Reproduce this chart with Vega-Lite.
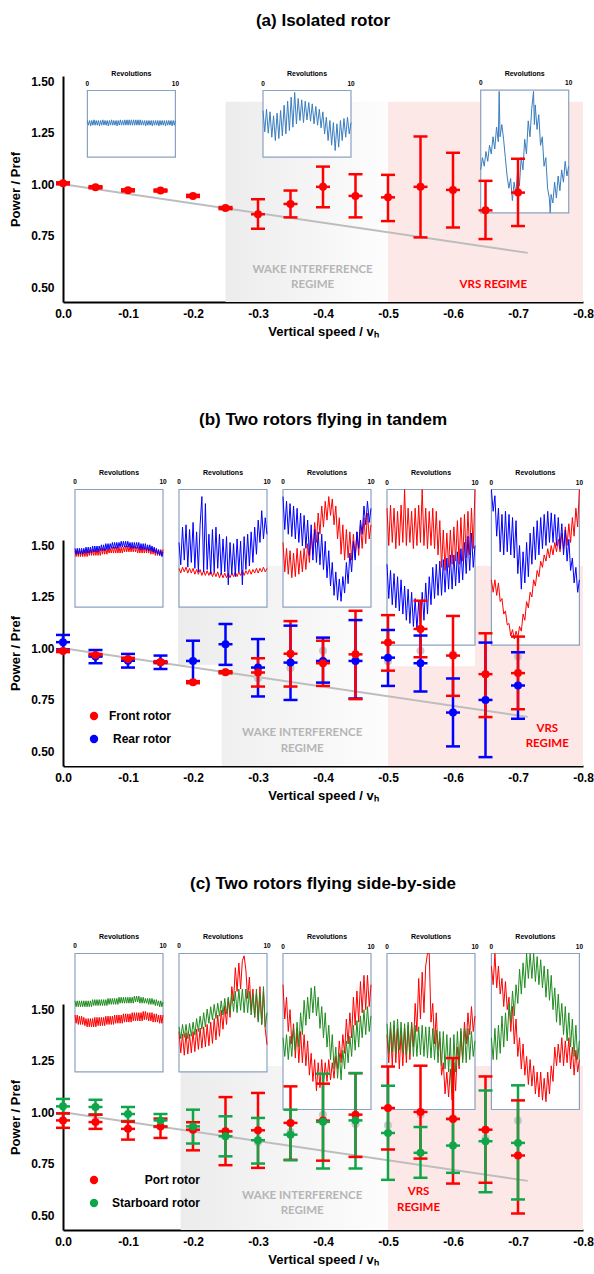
{
"$schema":"https://vega.github.io/schema/vega-lite/v6.json",
"background":"white",
"padding":{"left":9,"top":11,"right":0,"bottom":0},
"bounds":"flush",
"spacing":238,
"resolve":{"scale":{"x":"independent","y":"independent","color":"independent"},"legend":{"color":"independent"}},
"config":{
 "font":"Liberation Sans",
 "view":{"stroke":null},
 "axis":{"domainColor":"#000","domainWidth":2,"ticks":false,"grid":false,"labelFont":"Liberation Sans","labelFontSize":12,"labelFontWeight":"bold","labelColor":"#000","labelFlush":false,"titleFont":"Liberation Sans","titleFontSize":13,"titleFontWeight":"bold","titleColor":"#000"},
 "title":{"font":"Liberation Sans","fontSize":17,"fontWeight":"bold","color":"#000","anchor":"middle","offset":40}
},
"datasets":{
"trend":[{"v":0,"p":1.0},{"v":-0.715,"p":0.668}],
"iso":[
{"v":0,"p":1.005,"lo":1.0,"hi":1.01},{"v":-0.05,"p":0.986,"lo":0.981,"hi":0.991},{"v":-0.1,"p":0.971,"lo":0.966,"hi":0.976},{"v":-0.15,"p":0.97,"lo":0.965,"hi":0.975},{"v":-0.2,"p":0.944,"lo":0.939,"hi":0.949},{"v":-0.25,"p":0.885,"lo":0.88,"hi":0.89},{"v":-0.3,"p":0.855,"lo":0.785,"hi":0.928},{"v":-0.35,"p":0.905,"lo":0.84,"hi":0.97},{"v":-0.4,"p":0.988,"lo":0.889,"hi":1.086},{"v":-0.45,"p":0.944,"lo":0.84,"hi":1.049},{"v":-0.5,"p":0.937,"lo":0.822,"hi":1.046},{"v":-0.55,"p":0.988,"lo":0.743,"hi":1.232},{"v":-0.6,"p":0.973,"lo":0.791,"hi":1.153},{"v":-0.65,"p":0.874,"lo":0.735,"hi":1.017},{"v":-0.7,"p":0.96,"lo":0.798,"hi":1.124}],
"tandem":[
{"v":0,"rotor":"Rear rotor","p":1.03,"lo":0.995,"hi":1.065},{"v":-0.05,"rotor":"Rear rotor","p":0.96,"lo":0.928,"hi":0.992},{"v":-0.1,"rotor":"Rear rotor","p":0.94,"lo":0.907,"hi":0.973},{"v":-0.15,"rotor":"Rear rotor","p":0.933,"lo":0.9,"hi":0.965},{"v":-0.2,"rotor":"Rear rotor","p":0.939,"lo":0.839,"hi":1.037},{"v":-0.25,"rotor":"Rear rotor","p":1.02,"lo":0.92,"hi":1.118},{"v":-0.3,"rotor":"Rear rotor","p":0.907,"lo":0.767,"hi":1.045},{"v":-0.35,"rotor":"Rear rotor","p":0.931,"lo":0.75,"hi":1.11},{"v":-0.4,"rotor":"Rear rotor","p":0.939,"lo":0.834,"hi":1.052},{"v":-0.45,"rotor":"Rear rotor","p":0.939,"lo":0.757,"hi":1.137},{"v":-0.5,"rotor":"Rear rotor","p":0.955,"lo":0.818,"hi":1.089},{"v":-0.55,"rotor":"Rear rotor","p":0.928,"lo":0.791,"hi":1.062},{"v":-0.6,"rotor":"Rear rotor","p":0.689,"lo":0.525,"hi":0.854},{"v":-0.65,"rotor":"Rear rotor","p":0.75,"lo":0.473,"hi":1.028},{"v":-0.7,"rotor":"Rear rotor","p":0.82,"lo":0.659,"hi":0.981},
{"v":0,"rotor":"Front rotor","p":0.987,"lo":0.982,"hi":0.992},{"v":-0.05,"rotor":"Front rotor","p":0.968,"lo":0.963,"hi":0.973},{"v":-0.1,"rotor":"Front rotor","p":0.949,"lo":0.944,"hi":0.954},{"v":-0.15,"rotor":"Front rotor","p":0.933,"lo":0.928,"hi":0.938},{"v":-0.2,"rotor":"Front rotor","p":0.836,"lo":0.831,"hi":0.841},{"v":-0.25,"rotor":"Front rotor","p":0.884,"lo":0.879,"hi":0.889},{"v":-0.3,"rotor":"Front rotor","p":0.883,"lo":0.815,"hi":0.952},{"v":-0.35,"rotor":"Front rotor","p":0.974,"lo":0.815,"hi":1.132},{"v":-0.4,"rotor":"Front rotor","p":0.928,"lo":0.818,"hi":1.037},{"v":-0.45,"rotor":"Front rotor","p":0.971,"lo":0.754,"hi":1.182},{"v":-0.5,"rotor":"Front rotor","p":1.028,"lo":0.892,"hi":1.161},{"v":-0.55,"rotor":"Front rotor","p":1.094,"lo":0.957,"hi":1.231},{"v":-0.6,"rotor":"Front rotor","p":0.965,"lo":0.77,"hi":1.157},{"v":-0.65,"rotor":"Front rotor","p":0.875,"lo":0.667,"hi":1.073},{"v":-0.7,"rotor":"Front rotor","p":0.88,"lo":0.705,"hi":1.057}],
"side":[
{"v":0,"rotor":"Port rotor","p":0.961,"lo":0.925,"hi":0.995},{"v":-0.05,"rotor":"Port rotor","p":0.953,"lo":0.92,"hi":0.989},{"v":-0.1,"rotor":"Port rotor","p":0.92,"lo":0.868,"hi":0.955},{"v":-0.15,"rotor":"Port rotor","p":0.932,"lo":0.876,"hi":0.97},{"v":-0.2,"rotor":"Port rotor","p":0.916,"lo":0.816,"hi":0.952},{"v":-0.25,"rotor":"Port rotor","p":0.908,"lo":0.744,"hi":1.074},{"v":-0.3,"rotor":"Port rotor","p":0.913,"lo":0.731,"hi":1.094},{"v":-0.35,"rotor":"Port rotor","p":0.949,"lo":0.77,"hi":1.126},{"v":-0.4,"rotor":"Port rotor","p":0.96,"lo":0.766,"hi":1.139},{"v":-0.45,"rotor":"Port rotor","p":0.989,"lo":0.784,"hi":1.19},{"v":-0.5,"rotor":"Port rotor","p":1.021,"lo":0.82,"hi":1.222},{"v":-0.55,"rotor":"Port rotor","p":1.002,"lo":0.776,"hi":1.226},{"v":-0.6,"rotor":"Port rotor","p":0.968,"lo":0.655,"hi":1.263},{"v":-0.65,"rotor":"Port rotor","p":0.916,"lo":0.659,"hi":1.174},{"v":-0.7,"rotor":"Port rotor","p":0.791,"lo":0.51,"hi":1.058},
{"v":0,"rotor":"Starboard rotor","p":1.029,"lo":0.995,"hi":1.065},{"v":-0.05,"rotor":"Starboard rotor","p":1.026,"lo":0.989,"hi":1.061},{"v":-0.1,"rotor":"Starboard rotor","p":0.992,"lo":0.958,"hi":1.026},{"v":-0.15,"rotor":"Starboard rotor","p":0.961,"lo":0.929,"hi":0.992},{"v":-0.2,"rotor":"Starboard rotor","p":0.932,"lo":0.849,"hi":1.013},{"v":-0.25,"rotor":"Starboard rotor","p":0.884,"lo":0.787,"hi":0.981},{"v":-0.3,"rotor":"Starboard rotor","p":0.865,"lo":0.752,"hi":0.973},{"v":-0.35,"rotor":"Starboard rotor","p":0.892,"lo":0.768,"hi":1.013},{"v":-0.4,"rotor":"Starboard rotor","p":0.954,"lo":0.728,"hi":1.187},{"v":-0.45,"rotor":"Starboard rotor","p":0.961,"lo":0.728,"hi":1.19},{"v":-0.5,"rotor":"Starboard rotor","p":0.9,"lo":0.673,"hi":1.129},{"v":-0.55,"rotor":"Starboard rotor","p":0.804,"lo":0.683,"hi":0.929},{"v":-0.6,"rotor":"Starboard rotor","p":0.839,"lo":0.707,"hi":0.968},{"v":-0.65,"rotor":"Starboard rotor","p":0.86,"lo":0.613,"hi":1.106},{"v":-0.7,"rotor":"Starboard rotor","p":0.852,"lo":0.578,"hi":1.131}],
"a1":[{"r":0,"a":55},{"r":0.125,"a":48},{"r":0.25,"a":55},{"r":0.375,"a":47},{"r":0.5,"a":55},{"r":0.625,"a":48},{"r":0.75,"a":56},{"r":0.875,"a":48},{"r":1,"a":55},{"r":1.125,"a":48},{"r":1.25,"a":55},{"r":1.375,"a":47},{"r":1.5,"a":55},{"r":1.625,"a":48},{"r":1.75,"a":56},{"r":1.875,"a":48},{"r":2,"a":55},{"r":2.125,"a":48},{"r":2.25,"a":55},{"r":2.375,"a":47},{"r":2.5,"a":55},{"r":2.625,"a":48},{"r":2.75,"a":56},{"r":2.875,"a":48},{"r":3,"a":55},{"r":3.125,"a":48},{"r":3.25,"a":55},{"r":3.375,"a":47},{"r":3.5,"a":55},{"r":3.625,"a":48},{"r":3.75,"a":56},{"r":3.875,"a":48},{"r":4,"a":55},{"r":4.125,"a":48},{"r":4.25,"a":56},{"r":4.375,"a":48},{"r":4.5,"a":56},{"r":4.625,"a":48},{"r":4.75,"a":56},{"r":4.875,"a":48},{"r":5,"a":56},{"r":5.125,"a":48},{"r":5.25,"a":56},{"r":5.375,"a":48},{"r":5.5,"a":56},{"r":5.625,"a":48},{"r":5.75,"a":56},{"r":5.875,"a":48},{"r":6,"a":56},{"r":6.125,"a":48},{"r":6.25,"a":55},{"r":6.375,"a":48},{"r":6.5,"a":55},{"r":6.625,"a":47},{"r":6.75,"a":55},{"r":6.875,"a":48},{"r":7,"a":55},{"r":7.125,"a":48},{"r":7.25,"a":55},{"r":7.375,"a":47},{"r":7.5,"a":55},{"r":7.625,"a":48},{"r":7.75,"a":55},{"r":7.875,"a":48},{"r":8,"a":55},{"r":8.125,"a":47},{"r":8.25,"a":55},{"r":8.375,"a":48},{"r":8.5,"a":55},{"r":8.625,"a":48},{"r":8.75,"a":55},{"r":8.875,"a":47},{"r":9,"a":55},{"r":9.125,"a":48},{"r":9.25,"a":55},{"r":9.375,"a":48},{"r":9.5,"a":55},{"r":9.625,"a":47},{"r":9.75,"a":55},{"r":9.875,"a":48},{"r":10,"a":55}],
"a2":[{"r":0,"a":70},{"r":0.2,"a":38},{"r":0.4,"a":72},{"r":0.6,"a":36},{"r":0.8,"a":68},{"r":1,"a":30},{"r":1.2,"a":62},{"r":1.4,"a":25},{"r":1.6,"a":66},{"r":1.8,"a":28},{"r":2,"a":70},{"r":2.2,"a":32},{"r":2.4,"a":78},{"r":2.6,"a":35},{"r":2.8,"a":84},{"r":3,"a":40},{"r":3.2,"a":90},{"r":3.4,"a":45},{"r":3.6,"a":97},{"r":3.8,"a":50},{"r":4,"a":88},{"r":4.2,"a":55},{"r":4.4,"a":86},{"r":4.6,"a":52},{"r":4.8,"a":84},{"r":5,"a":56},{"r":5.2,"a":82},{"r":5.4,"a":54},{"r":5.6,"a":80},{"r":5.8,"a":50},{"r":6,"a":76},{"r":6.2,"a":48},{"r":6.4,"a":72},{"r":6.6,"a":44},{"r":6.8,"a":68},{"r":7,"a":35},{"r":7.2,"a":60},{"r":7.4,"a":25},{"r":7.6,"a":55},{"r":7.8,"a":18},{"r":8,"a":52},{"r":8.2,"a":10},{"r":8.4,"a":50},{"r":8.6,"a":15},{"r":8.8,"a":55},{"r":9,"a":25},{"r":9.2,"a":58},{"r":9.4,"a":30},{"r":9.6,"a":60},{"r":9.8,"a":35},{"r":10,"a":52}],
"a3":[{"r":0,"a":35},{"r":0.2,"a":45},{"r":0.4,"a":38},{"r":0.6,"a":50},{"r":0.8,"a":42},{"r":1,"a":55},{"r":1.2,"a":48},{"r":1.4,"a":62},{"r":1.6,"a":52},{"r":1.8,"a":70},{"r":2,"a":58},{"r":2.1,"a":99},{"r":2.2,"a":62},{"r":2.4,"a":72},{"r":2.6,"a":60},{"r":2.8,"a":45},{"r":3,"a":30},{"r":3.2,"a":20},{"r":3.4,"a":28},{"r":3.6,"a":10},{"r":3.8,"a":25},{"r":4,"a":15},{"r":4.2,"a":35},{"r":4.4,"a":22},{"r":4.6,"a":45},{"r":4.8,"a":35},{"r":5,"a":60},{"r":5.2,"a":48},{"r":5.4,"a":75},{"r":5.6,"a":62},{"r":5.8,"a":85},{"r":6,"a":99},{"r":6.1,"a":72},{"r":6.2,"a":88},{"r":6.4,"a":68},{"r":6.6,"a":80},{"r":6.8,"a":55},{"r":7,"a":62},{"r":7.2,"a":38},{"r":7.4,"a":45},{"r":7.6,"a":20},{"r":7.8,"a":12},{"r":7.9,"a":0},{"r":8,"a":15},{"r":8.2,"a":8},{"r":8.4,"a":25},{"r":8.6,"a":12},{"r":8.8,"a":30},{"r":9,"a":18},{"r":9.2,"a":35},{"r":9.4,"a":25},{"r":9.6,"a":42},{"r":9.8,"a":30},{"r":10,"a":38}],
"b1":[{"r":0,"a":48,"b":50},{"r":0.125,"a":43,"b":45},{"r":0.25,"a":48,"b":50},{"r":0.375,"a":43,"b":45},{"r":0.5,"a":48,"b":50},{"r":0.625,"a":43,"b":45},{"r":0.75,"a":48,"b":50},{"r":0.875,"a":43,"b":45},{"r":1,"a":48,"b":50},{"r":1.125,"a":43,"b":46},{"r":1.25,"a":48,"b":51},{"r":1.375,"a":43,"b":46},{"r":1.5,"a":48,"b":51},{"r":1.625,"a":44,"b":46},{"r":1.75,"a":49,"b":51},{"r":1.875,"a":44,"b":46},{"r":2,"a":49,"b":52},{"r":2.125,"a":44,"b":47},{"r":2.25,"a":49,"b":52},{"r":2.375,"a":44,"b":47},{"r":2.5,"a":49,"b":52},{"r":2.625,"a":44,"b":47},{"r":2.75,"a":49,"b":52},{"r":2.875,"a":44,"b":48},{"r":3,"a":50,"b":53},{"r":3.125,"a":45,"b":48},{"r":3.25,"a":50,"b":53},{"r":3.375,"a":45,"b":48},{"r":3.5,"a":50,"b":54},{"r":3.625,"a":45,"b":49},{"r":3.75,"a":50,"b":54},{"r":3.875,"a":46,"b":49},{"r":4,"a":50,"b":54},{"r":4.125,"a":46,"b":50},{"r":4.25,"a":51,"b":55},{"r":4.375,"a":46,"b":50},{"r":4.5,"a":51,"b":55},{"r":4.625,"a":46,"b":50},{"r":4.75,"a":51,"b":55},{"r":4.875,"a":46,"b":50},{"r":5,"a":51,"b":55},{"r":5.125,"a":46,"b":51},{"r":5.25,"a":51,"b":56},{"r":5.375,"a":46,"b":51},{"r":5.5,"a":51,"b":56},{"r":5.625,"a":47,"b":51},{"r":5.75,"a":52,"b":56},{"r":5.875,"a":47,"b":51},{"r":6,"a":52,"b":56},{"r":6.125,"a":47,"b":51},{"r":6.25,"a":52,"b":55},{"r":6.375,"a":47,"b":50},{"r":6.5,"a":52,"b":55},{"r":6.625,"a":47,"b":50},{"r":6.75,"a":52,"b":55},{"r":6.875,"a":47,"b":50},{"r":7,"a":51,"b":55},{"r":7.125,"a":46,"b":50},{"r":7.25,"a":51,"b":55},{"r":7.375,"a":46,"b":49},{"r":7.5,"a":51,"b":54},{"r":7.625,"a":46,"b":49},{"r":7.75,"a":51,"b":54},{"r":7.875,"a":46,"b":49},{"r":8,"a":51,"b":54},{"r":8.125,"a":46,"b":48},{"r":8.25,"a":51,"b":53},{"r":8.375,"a":46,"b":48},{"r":8.5,"a":50,"b":53},{"r":8.625,"a":45,"b":48},{"r":8.75,"a":50,"b":52},{"r":8.875,"a":45,"b":47},{"r":9,"a":50,"b":51},{"r":9.125,"a":44,"b":46},{"r":9.25,"a":49,"b":50},{"r":9.375,"a":44,"b":45},{"r":9.5,"a":48,"b":49},{"r":9.625,"a":44,"b":44},{"r":9.75,"a":49,"b":48},{"r":9.875,"a":44,"b":43},{"r":10,"a":49,"b":47}],
"b2":[{"r":0,"a":33,"b":55},{"r":0.2,"a":29,"b":36},{"r":0.4,"a":34,"b":68},{"r":0.6,"a":30,"b":40},{"r":0.8,"a":34,"b":70},{"r":1,"a":29,"b":34},{"r":1.2,"a":33,"b":66},{"r":1.4,"a":29,"b":38},{"r":1.6,"a":33,"b":72},{"r":1.8,"a":28,"b":33},{"r":2,"a":32,"b":64},{"r":2.2,"a":28,"b":30},{"r":2.4,"a":32,"b":70},{"r":2.6,"a":27,"b":94},{"r":2.8,"a":31,"b":30},{"r":3,"a":27,"b":88},{"r":3.2,"a":31,"b":32},{"r":3.4,"a":27,"b":62},{"r":3.6,"a":31,"b":28},{"r":3.8,"a":26,"b":66},{"r":4,"a":30,"b":30},{"r":4.2,"a":26,"b":68},{"r":4.4,"a":30,"b":33},{"r":4.6,"a":25,"b":62},{"r":4.8,"a":29,"b":28},{"r":5,"a":25,"b":58},{"r":5.2,"a":29,"b":30},{"r":5.4,"a":25,"b":60},{"r":5.6,"a":29,"b":19},{"r":5.8,"a":25,"b":55},{"r":6,"a":29,"b":28},{"r":6.2,"a":26,"b":54},{"r":6.4,"a":30,"b":26},{"r":6.6,"a":26,"b":58},{"r":6.8,"a":30,"b":30},{"r":7,"a":27,"b":56},{"r":7.2,"a":31,"b":19},{"r":7.4,"a":27,"b":60},{"r":7.6,"a":31,"b":32},{"r":7.8,"a":28,"b":62},{"r":8,"a":32,"b":35},{"r":8.2,"a":28,"b":64},{"r":8.4,"a":32,"b":38},{"r":8.6,"a":29,"b":68},{"r":8.8,"a":33,"b":45},{"r":9,"a":29,"b":74},{"r":9.2,"a":33,"b":55},{"r":9.4,"a":30,"b":82},{"r":9.6,"a":34,"b":58},{"r":9.8,"a":30,"b":76},{"r":10,"a":33,"b":62}],
"b3":[{"r":0,"a":55,"b":94},{"r":0.2,"a":30,"b":66},{"r":0.4,"a":50,"b":90},{"r":0.6,"a":28,"b":62},{"r":0.8,"a":48,"b":88},{"r":1,"a":25,"b":60},{"r":1.2,"a":46,"b":86},{"r":1.4,"a":26,"b":58},{"r":1.6,"a":50,"b":84},{"r":1.8,"a":28,"b":55},{"r":2,"a":48,"b":80},{"r":2.2,"a":30,"b":52},{"r":2.4,"a":50,"b":78},{"r":2.6,"a":32,"b":50},{"r":2.8,"a":54,"b":74},{"r":3,"a":38,"b":44},{"r":3.2,"a":62,"b":70},{"r":3.4,"a":45,"b":40},{"r":3.6,"a":72,"b":66},{"r":3.8,"a":55,"b":38},{"r":4,"a":80,"b":64},{"r":4.2,"a":62,"b":36},{"r":4.4,"a":86,"b":62},{"r":4.6,"a":68,"b":32},{"r":4.8,"a":90,"b":56},{"r":5,"a":74,"b":25},{"r":5.2,"a":94,"b":48},{"r":5.4,"a":78,"b":18},{"r":5.6,"a":92,"b":38},{"r":5.8,"a":70,"b":10},{"r":6,"a":86,"b":30},{"r":6.2,"a":58,"b":6},{"r":6.4,"a":76,"b":24},{"r":6.6,"a":45,"b":5},{"r":6.8,"a":70,"b":26},{"r":7,"a":40,"b":12},{"r":7.2,"a":66,"b":38},{"r":7.4,"a":42,"b":20},{"r":7.6,"a":64,"b":46},{"r":7.8,"a":40,"b":30},{"r":8,"a":62,"b":56},{"r":8.2,"a":42,"b":40},{"r":8.4,"a":64,"b":64},{"r":8.6,"a":44,"b":50},{"r":8.8,"a":70,"b":74},{"r":9,"a":50,"b":62},{"r":9.2,"a":76,"b":86},{"r":9.4,"a":54,"b":70},{"r":9.6,"a":80,"b":90},{"r":9.8,"a":58,"b":72},{"r":10,"a":70,"b":84}],
"b4":[{"r":0,"a":88,"b":52},{"r":0.2,"a":64,"b":30},{"r":0.4,"a":90,"b":48},{"r":0.6,"a":66,"b":26},{"r":0.8,"a":88,"b":46},{"r":1,"a":62,"b":24},{"r":1.2,"a":86,"b":44},{"r":1.4,"a":64,"b":22},{"r":1.6,"a":90,"b":42},{"r":1.8,"a":66,"b":20},{"r":2,"a":100,"b":38},{"r":2.2,"a":64,"b":16},{"r":2.4,"a":88,"b":36},{"r":2.6,"a":66,"b":14},{"r":2.8,"a":86,"b":34},{"r":3,"a":62,"b":12},{"r":3.2,"a":88,"b":30},{"r":3.4,"a":64,"b":10},{"r":3.6,"a":90,"b":28},{"r":3.8,"a":66,"b":12},{"r":4,"a":100,"b":34},{"r":4.2,"a":64,"b":16},{"r":4.4,"a":88,"b":40},{"r":4.6,"a":62,"b":20},{"r":4.8,"a":86,"b":44},{"r":5,"a":64,"b":26},{"r":5.2,"a":88,"b":50},{"r":5.4,"a":62,"b":30},{"r":5.6,"a":86,"b":52},{"r":5.8,"a":58,"b":32},{"r":6,"a":80,"b":54},{"r":6.2,"a":50,"b":32},{"r":6.4,"a":74,"b":55},{"r":6.6,"a":48,"b":34},{"r":6.8,"a":72,"b":56},{"r":7,"a":50,"b":36},{"r":7.2,"a":74,"b":58},{"r":7.4,"a":52,"b":36},{"r":7.6,"a":76,"b":58},{"r":7.8,"a":54,"b":38},{"r":8,"a":80,"b":60},{"r":8.2,"a":52,"b":40},{"r":8.4,"a":82,"b":62},{"r":8.6,"a":54,"b":42},{"r":8.8,"a":84,"b":66},{"r":9,"a":56,"b":46},{"r":9.2,"a":86,"b":70},{"r":9.4,"a":58,"b":48},{"r":9.6,"a":88,"b":72},{"r":9.8,"a":62,"b":50},{"r":10,"a":100,"b":64}],
"b5":[{"r":0,"a":42,"b":100},{"r":0.2,"a":34,"b":86},{"r":0.4,"a":42,"b":96},{"r":0.6,"a":32,"b":70},{"r":0.8,"a":40,"b":88},{"r":1,"a":28,"b":60},{"r":1.2,"a":30,"b":84},{"r":1.4,"a":20,"b":58},{"r":1.6,"a":22,"b":86},{"r":1.8,"a":13,"b":60},{"r":2,"a":14,"b":84},{"r":2.2,"a":6,"b":58},{"r":2.4,"a":10,"b":82},{"r":2.6,"a":4,"b":56},{"r":2.8,"a":9,"b":80},{"r":3,"a":5,"b":46},{"r":3.2,"a":12,"b":64},{"r":3.4,"a":9,"b":36},{"r":3.6,"a":20,"b":60},{"r":3.8,"a":16,"b":40},{"r":4,"a":28,"b":66},{"r":4.2,"a":24,"b":44},{"r":4.4,"a":34,"b":72},{"r":4.6,"a":31,"b":52},{"r":4.8,"a":42,"b":76},{"r":5,"a":38,"b":55},{"r":5.2,"a":48,"b":80},{"r":5.4,"a":44,"b":58},{"r":5.6,"a":54,"b":82},{"r":5.8,"a":50,"b":62},{"r":6,"a":58,"b":84},{"r":6.2,"a":54,"b":64},{"r":6.4,"a":62,"b":86},{"r":6.6,"a":56,"b":66},{"r":6.8,"a":64,"b":85},{"r":7,"a":58,"b":66},{"r":7.2,"a":66,"b":84},{"r":7.4,"a":60,"b":64},{"r":7.6,"a":68,"b":82},{"r":7.8,"a":60,"b":62},{"r":8,"a":72,"b":78},{"r":8.2,"a":62,"b":58},{"r":8.4,"a":76,"b":74},{"r":8.6,"a":64,"b":54},{"r":8.8,"a":78,"b":68},{"r":9,"a":66,"b":48},{"r":9.2,"a":82,"b":56},{"r":9.4,"a":70,"b":40},{"r":9.6,"a":88,"b":50},{"r":9.8,"a":76,"b":34},{"r":10,"a":100,"b":42}],
"c1":[{"r":0,"a":48,"b":60},{"r":0.125,"a":41,"b":55},{"r":0.25,"a":48,"b":60},{"r":0.375,"a":40,"b":55},{"r":0.5,"a":47,"b":60},{"r":0.625,"a":40,"b":55},{"r":0.75,"a":47,"b":60},{"r":0.875,"a":40,"b":55},{"r":1,"a":46,"b":60},{"r":1.125,"a":39,"b":55},{"r":1.25,"a":45,"b":60},{"r":1.375,"a":38,"b":55},{"r":1.5,"a":45,"b":60},{"r":1.625,"a":38,"b":55},{"r":1.75,"a":45,"b":60},{"r":1.875,"a":38,"b":55},{"r":2,"a":45,"b":61},{"r":2.125,"a":38,"b":56},{"r":2.25,"a":46,"b":61},{"r":2.375,"a":38,"b":56},{"r":2.5,"a":46,"b":61},{"r":2.625,"a":39,"b":56},{"r":2.75,"a":46,"b":61},{"r":2.875,"a":39,"b":56},{"r":3,"a":46,"b":61},{"r":3.125,"a":39,"b":56},{"r":3.25,"a":46,"b":61},{"r":3.375,"a":39,"b":56},{"r":3.5,"a":47,"b":61},{"r":3.625,"a":40,"b":56},{"r":3.75,"a":47,"b":62},{"r":3.875,"a":40,"b":57},{"r":4,"a":47,"b":62},{"r":4.125,"a":40,"b":57},{"r":4.25,"a":47,"b":62},{"r":4.375,"a":40,"b":57},{"r":4.5,"a":48,"b":62},{"r":4.625,"a":41,"b":57},{"r":4.75,"a":48,"b":62},{"r":4.875,"a":41,"b":57},{"r":5,"a":48,"b":63},{"r":5.125,"a":41,"b":58},{"r":5.25,"a":48,"b":63},{"r":5.375,"a":41,"b":58},{"r":5.5,"a":49,"b":63},{"r":5.625,"a":42,"b":58},{"r":5.75,"a":49,"b":63},{"r":5.875,"a":42,"b":58},{"r":6,"a":49,"b":63},{"r":6.125,"a":42,"b":58},{"r":6.25,"a":49,"b":63},{"r":6.375,"a":42,"b":58},{"r":6.5,"a":50,"b":63},{"r":6.625,"a":43,"b":58},{"r":6.75,"a":50,"b":64},{"r":6.875,"a":43,"b":59},{"r":7,"a":50,"b":64},{"r":7.125,"a":43,"b":59},{"r":7.25,"a":50,"b":64},{"r":7.375,"a":43,"b":58},{"r":7.5,"a":50,"b":63},{"r":7.625,"a":43,"b":58},{"r":7.75,"a":51,"b":63},{"r":7.875,"a":44,"b":58},{"r":8,"a":51,"b":62},{"r":8.125,"a":44,"b":58},{"r":8.25,"a":50,"b":62},{"r":8.375,"a":43,"b":57},{"r":8.5,"a":50,"b":62},{"r":8.625,"a":43,"b":57},{"r":8.75,"a":50,"b":62},{"r":8.875,"a":42,"b":57},{"r":9,"a":49,"b":61},{"r":9.125,"a":42,"b":56},{"r":9.25,"a":49,"b":61},{"r":9.375,"a":42,"b":56},{"r":9.5,"a":48,"b":60},{"r":9.625,"a":41,"b":55},{"r":9.75,"a":48,"b":60},{"r":9.875,"a":41,"b":55},{"r":10,"a":48,"b":59}],
"c2":[{"r":0,"a":34,"b":38},{"r":0.2,"a":16,"b":28},{"r":0.4,"a":32,"b":40},{"r":0.6,"a":14,"b":29},{"r":0.8,"a":33,"b":40},{"r":1,"a":15,"b":28},{"r":1.2,"a":32,"b":41},{"r":1.4,"a":16,"b":30},{"r":1.6,"a":34,"b":42},{"r":1.8,"a":17,"b":31},{"r":2,"a":36,"b":45},{"r":2.2,"a":19,"b":34},{"r":2.4,"a":37,"b":47},{"r":2.6,"a":20,"b":36},{"r":2.8,"a":38,"b":50},{"r":3,"a":21,"b":38},{"r":3.2,"a":40,"b":53},{"r":3.4,"a":22,"b":41},{"r":3.6,"a":42,"b":55},{"r":3.8,"a":24,"b":44},{"r":4,"a":45,"b":57},{"r":4.2,"a":27,"b":45},{"r":4.4,"a":48,"b":58},{"r":4.6,"a":30,"b":47},{"r":4.8,"a":52,"b":60},{"r":5,"a":36,"b":48},{"r":5.2,"a":56,"b":62},{"r":5.4,"a":40,"b":49},{"r":5.6,"a":62,"b":63},{"r":5.8,"a":46,"b":50},{"r":6,"a":72,"b":66},{"r":6.2,"a":60,"b":51},{"r":6.4,"a":88,"b":68},{"r":6.6,"a":68,"b":50},{"r":6.8,"a":92,"b":70},{"r":7,"a":70,"b":52},{"r":7.2,"a":94,"b":70},{"r":7.4,"a":98,"b":50},{"r":7.6,"a":86,"b":70},{"r":7.8,"a":62,"b":50},{"r":8,"a":80,"b":68},{"r":8.2,"a":52,"b":48},{"r":8.4,"a":70,"b":66},{"r":8.6,"a":46,"b":46},{"r":8.8,"a":66,"b":70},{"r":9,"a":44,"b":42},{"r":9.2,"a":72,"b":66},{"r":9.4,"a":40,"b":40},{"r":9.6,"a":68,"b":72},{"r":9.8,"a":36,"b":38},{"r":10,"a":23,"b":50}],
"c3":[{"r":0,"a":80,"b":46},{"r":0.2,"a":58,"b":34},{"r":0.4,"a":72,"b":48},{"r":0.6,"a":50,"b":32},{"r":0.8,"a":64,"b":47},{"r":1,"a":42,"b":34},{"r":1.2,"a":55,"b":52},{"r":1.4,"a":33,"b":38},{"r":1.6,"a":52,"b":56},{"r":1.8,"a":30,"b":40},{"r":2,"a":50,"b":62},{"r":2.2,"a":30,"b":48},{"r":2.4,"a":48,"b":70},{"r":2.6,"a":28,"b":54},{"r":2.8,"a":44,"b":72},{"r":3,"a":22,"b":58},{"r":3.2,"a":36,"b":78},{"r":3.4,"a":18,"b":62},{"r":3.6,"a":32,"b":79},{"r":3.8,"a":12,"b":60},{"r":4,"a":30,"b":72},{"r":4.2,"a":14,"b":52},{"r":4.4,"a":32,"b":66},{"r":4.6,"a":16,"b":46},{"r":4.8,"a":30,"b":62},{"r":5,"a":18,"b":40},{"r":5.2,"a":32,"b":54},{"r":5.4,"a":19,"b":32},{"r":5.6,"a":30,"b":48},{"r":5.8,"a":20,"b":26},{"r":6,"a":34,"b":40},{"r":6.2,"a":26,"b":20},{"r":6.4,"a":44,"b":36},{"r":6.6,"a":30,"b":19},{"r":6.8,"a":48,"b":38},{"r":7,"a":36,"b":26},{"r":7.2,"a":58,"b":44},{"r":7.4,"a":42,"b":30},{"r":7.6,"a":62,"b":47},{"r":7.8,"a":46,"b":34},{"r":8,"a":72,"b":54},{"r":8.2,"a":54,"b":38},{"r":8.4,"a":76,"b":57},{"r":8.6,"a":56,"b":40},{"r":8.8,"a":82,"b":60},{"r":9,"a":62,"b":46},{"r":9.2,"a":86,"b":64},{"r":9.4,"a":64,"b":48},{"r":9.6,"a":86,"b":66},{"r":9.8,"a":66,"b":50},{"r":10,"a":80,"b":60}],
"c4":[{"r":0,"a":48,"b":55},{"r":0.2,"a":30,"b":36},{"r":0.4,"a":52,"b":56},{"r":0.6,"a":28,"b":37},{"r":0.8,"a":54,"b":57},{"r":1,"a":30,"b":36},{"r":1.2,"a":52,"b":58},{"r":1.4,"a":26,"b":38},{"r":1.6,"a":50,"b":56},{"r":1.8,"a":28,"b":36},{"r":2,"a":52,"b":55},{"r":2.2,"a":30,"b":35},{"r":2.4,"a":54,"b":56},{"r":2.6,"a":32,"b":36},{"r":2.8,"a":56,"b":55},{"r":3,"a":40,"b":34},{"r":3.2,"a":68,"b":54},{"r":3.4,"a":50,"b":34},{"r":3.6,"a":84,"b":53},{"r":3.8,"a":58,"b":35},{"r":4,"a":88,"b":54},{"r":4.2,"a":62,"b":34},{"r":4.4,"a":92,"b":53},{"r":4.6,"a":100,"b":33},{"r":4.8,"a":100,"b":53},{"r":5,"a":56,"b":33},{"r":5.2,"a":68,"b":52},{"r":5.4,"a":42,"b":32},{"r":5.6,"a":62,"b":51},{"r":5.8,"a":38,"b":30},{"r":6,"a":46,"b":50},{"r":6.2,"a":22,"b":28},{"r":6.4,"a":30,"b":50},{"r":6.6,"a":10,"b":26},{"r":6.8,"a":24,"b":48},{"r":7,"a":8,"b":24},{"r":7.2,"a":26,"b":46},{"r":7.4,"a":6,"b":11},{"r":7.6,"a":30,"b":48},{"r":7.8,"a":12,"b":24},{"r":8,"a":40,"b":50},{"r":8.2,"a":26,"b":28},{"r":8.4,"a":50,"b":52},{"r":8.6,"a":32,"b":30},{"r":8.8,"a":56,"b":52},{"r":9,"a":42,"b":30},{"r":9.2,"a":62,"b":52},{"r":9.4,"a":48,"b":32},{"r":9.6,"a":66,"b":50},{"r":9.8,"a":50,"b":34},{"r":10,"a":60,"b":44}],
"c5":[{"r":0,"a":92,"b":46},{"r":0.2,"a":80,"b":32},{"r":0.4,"a":100,"b":52},{"r":0.6,"a":78,"b":32},{"r":0.8,"a":92,"b":54},{"r":1,"a":74,"b":36},{"r":1.2,"a":84,"b":60},{"r":1.4,"a":66,"b":40},{"r":1.6,"a":82,"b":62},{"r":1.8,"a":64,"b":44},{"r":2,"a":72,"b":68},{"r":2.2,"a":50,"b":56},{"r":2.4,"a":66,"b":76},{"r":2.6,"a":42,"b":60},{"r":2.8,"a":58,"b":80},{"r":3,"a":34,"b":68},{"r":3.2,"a":46,"b":90},{"r":3.4,"a":26,"b":74},{"r":3.6,"a":42,"b":94},{"r":3.8,"a":22,"b":78},{"r":4,"a":34,"b":100},{"r":4.2,"a":16,"b":84},{"r":4.4,"a":32,"b":100},{"r":4.6,"a":15,"b":84},{"r":4.8,"a":28,"b":100},{"r":5,"a":10,"b":82},{"r":5.2,"a":24,"b":98},{"r":5.4,"a":8,"b":80},{"r":5.6,"a":24,"b":96},{"r":5.8,"a":6,"b":78},{"r":6,"a":20,"b":92},{"r":6.2,"a":5,"b":72},{"r":6.4,"a":24,"b":90},{"r":6.6,"a":10,"b":70},{"r":6.8,"a":28,"b":86},{"r":7,"a":18,"b":64},{"r":7.2,"a":40,"b":78},{"r":7.4,"a":28,"b":56},{"r":7.6,"a":42,"b":74},{"r":7.8,"a":30,"b":54},{"r":8,"a":46,"b":68},{"r":8.2,"a":28,"b":48},{"r":8.4,"a":44,"b":66},{"r":8.6,"a":30,"b":44},{"r":8.8,"a":46,"b":62},{"r":9,"a":26,"b":40},{"r":9.2,"a":40,"b":58},{"r":9.4,"a":22,"b":34},{"r":9.6,"a":38,"b":54},{"r":9.8,"a":24,"b":32},{"r":10,"a":32,"b":44}]
},
"vconcat":[
{
 "title":"(a) Isolated rotor",
 "width":520,"height":226,
 "resolve":{"scale":{"x":"independent","y":"independent"}},
 "layer":[
  {"data":{"values":[{}]},"layer":[
   {"mark":{"type":"rect","fill":{"gradient":"linear","x1":0,"y1":0,"x2":1,"y2":0,"stops":[{"offset":0,"color":"#ececec"},{"offset":1,"color":"#fdfdfd"}]}},"encoding":{"x":{"datum":-0.25,"scale":{"domain":[0,-0.8],"nice":false,"zero":false},"axis":null},"x2":{"datum":-0.5},"y":{"datum":0.43,"scale":{"domain":[0.43,1.525],"nice":false,"zero":false},"axis":null},"y2":{"datum":1.4}}},
   {"mark":{"type":"rect","fill":"#fde8e8"},"encoding":{"x":{"datum":-0.5,"scale":{"domain":[0,-0.8],"nice":false,"zero":false},"axis":null},"x2":{"datum":-0.8},"y":{"datum":0.43,"scale":{"domain":[0.43,1.525],"nice":false,"zero":false},"axis":null},"y2":{"datum":1.4}}}
  ]},
  {"layer":[
    {"data":{"values":[{}]},"mark":{"type":"rect","fill":"white","stroke":"#8aa2c0","strokeWidth":1.2},"encoding":{"x":{"datum":0,"scale":{"domain":[-2.773,56.318],"nice":false,"zero":false},"axis":null},"x2":{"datum":10},"y":{"datum":0,"scale":{"domain":[-217.09,121.74],"nice":false,"zero":false},"axis":null},"y2":{"datum":100}}},
    {"data":{"name":"a1"},"mark":{"type":"line","color":"#3a7dbf","strokeWidth":1},"encoding":{"x":{"field":"r","type":"quantitative","scale":{"domain":[-2.773,56.318],"nice":false,"zero":false},"axis":null},"y":{"field":"a","type":"quantitative","scale":{"domain":[-217.09,121.74],"nice":false,"zero":false},"axis":null}}},
    {"data":{"values":[{"r":0},{"r":10}]},"mark":{"type":"text","fontSize":6.5,"fontWeight":"bold","baseline":"middle","dy":-7},"encoding":{"x":{"field":"r","type":"quantitative","scale":{"domain":[-2.773,56.318],"nice":false,"zero":false},"axis":null},"y":{"datum":100,"scale":{"domain":[-217.09,121.74],"nice":false,"zero":false},"axis":null},"text":{"field":"r","type":"nominal"}}},
    {"data":{"values":[{}]},"mark":{"type":"text","text":"Revolutions","fontSize":7,"fontWeight":"bold","baseline":"middle","dy":-16.5},"encoding":{"x":{"datum":5,"scale":{"domain":[-2.773,56.318],"nice":false,"zero":false},"axis":null},"y":{"datum":100,"scale":{"domain":[-217.09,121.74],"nice":false,"zero":false},"axis":null}}}
  ]},
  {"layer":[
    {"data":{"values":[{}]},"mark":{"type":"rect","fill":"white","stroke":"#8aa2c0","strokeWidth":1.2},"encoding":{"x":{"datum":0,"scale":{"domain":[-22.727,36.364],"nice":false,"zero":false},"axis":null},"x2":{"datum":10},"y":{"datum":0,"scale":{"domain":[-217.09,121.74],"nice":false,"zero":false},"axis":null},"y2":{"datum":100}}},
    {"data":{"name":"a2"},"mark":{"type":"line","color":"#3a7dbf","strokeWidth":1},"encoding":{"x":{"field":"r","type":"quantitative","scale":{"domain":[-22.727,36.364],"nice":false,"zero":false},"axis":null},"y":{"field":"a","type":"quantitative","scale":{"domain":[-217.09,121.74],"nice":false,"zero":false},"axis":null}}},
    {"data":{"values":[{"r":0},{"r":10}]},"mark":{"type":"text","fontSize":6.5,"fontWeight":"bold","baseline":"middle","dy":-7},"encoding":{"x":{"field":"r","type":"quantitative","scale":{"domain":[-22.727,36.364],"nice":false,"zero":false},"axis":null},"y":{"datum":100,"scale":{"domain":[-217.09,121.74],"nice":false,"zero":false},"axis":null},"text":{"field":"r","type":"nominal"}}},
    {"data":{"values":[{}]},"mark":{"type":"text","text":"Revolutions","fontSize":7,"fontWeight":"bold","baseline":"middle","dy":-16.5},"encoding":{"x":{"datum":5,"scale":{"domain":[-22.727,36.364],"nice":false,"zero":false},"axis":null},"y":{"datum":100,"scale":{"domain":[-217.09,121.74],"nice":false,"zero":false},"axis":null}}}
  ]},
  {"layer":[
    {"data":{"values":[{}]},"mark":{"type":"rect","fill":"white","stroke":"#8aa2c0","strokeWidth":1.2},"encoding":{"x":{"datum":0,"scale":{"domain":[-47.466,11.625],"nice":false,"zero":false},"axis":null},"x2":{"datum":10},"y":{"datum":0,"scale":{"domain":[-72.76,111.58],"nice":false,"zero":false},"axis":null},"y2":{"datum":100}}},
    {"data":{"name":"a3"},"mark":{"type":"line","color":"#3a7dbf","strokeWidth":1},"encoding":{"x":{"field":"r","type":"quantitative","scale":{"domain":[-47.466,11.625],"nice":false,"zero":false},"axis":null},"y":{"field":"a","type":"quantitative","scale":{"domain":[-72.76,111.58],"nice":false,"zero":false},"axis":null}}},
    {"data":{"values":[{"r":0},{"r":10}]},"mark":{"type":"text","fontSize":6.5,"fontWeight":"bold","baseline":"middle","dy":-7},"encoding":{"x":{"field":"r","type":"quantitative","scale":{"domain":[-47.466,11.625],"nice":false,"zero":false},"axis":null},"y":{"datum":100,"scale":{"domain":[-72.76,111.58],"nice":false,"zero":false},"axis":null},"text":{"field":"r","type":"nominal"}}},
    {"data":{"values":[{}]},"mark":{"type":"text","text":"Revolutions","fontSize":7,"fontWeight":"bold","baseline":"middle","dy":-16.5},"encoding":{"x":{"datum":5,"scale":{"domain":[-47.466,11.625],"nice":false,"zero":false},"axis":null},"y":{"datum":100,"scale":{"domain":[-72.76,111.58],"nice":false,"zero":false},"axis":null}}}
  ]},
  {"layer":[
   {"encoding":{
     "x":{"field":"v","type":"quantitative","scale":{"domain":[0,-0.8],"nice":false,"zero":false},"axis":{"orient":"bottom","values":[0,-0.1,-0.2,-0.3,-0.4,-0.5,-0.6,-0.7,-0.8],"labelExpr":"replace(format(datum.value,'.1f'),'−','-')","title":"Vertical speed / vₕ","labelPadding":6,"titlePadding":6}},
     "y":{"field":"p","type":"quantitative","scale":{"domain":[0.43,1.525],"nice":false,"zero":false},"axis":{"orient":"left","values":[0.5,0.75,1,1.25,1.5],"format":".2f","title":"Power / Pref","labelPadding":9,"titlePadding":8}}},
    "layer":[
     {"data":{"name":"trend"},"mark":{"type":"line","color":"#bdbdbd","strokeWidth":2}},
     {"data":{"name":"iso"},"layer":[
      {"mark":{"type":"rule","color":"#ff0000","strokeWidth":2.5},"encoding":{"y":{"field":"lo","type":"quantitative"},"y2":{"field":"hi"}}},
      {"mark":{"type":"tick","orient":"horizontal","color":"#ff0000","size":14,"thickness":2.5,"opacity":1},"encoding":{"y":{"field":"lo","type":"quantitative"}}},
      {"mark":{"type":"tick","orient":"horizontal","color":"#ff0000","size":14,"thickness":2.5,"opacity":1},"encoding":{"y":{"field":"hi","type":"quantitative"}}},
      {"mark":{"type":"tick","orient":"horizontal","color":"#ff0000","size":14,"thickness":2.5,"opacity":1}},
      {"mark":{"type":"circle","color":"#ff0000","size":64,"opacity":1}}
     ]}
    ]},
   {"data":{"values":[{}]},"mark":{"type":"text","text":["WAKE INTERFERENCE","REGIME"],"font":"Lato","fontWeight":"bold","fontSize":11.5,"lineHeight":15,"color":"#b5b5b5","align":"center","baseline":"middle"},"encoding":{"x":{"datum":-0.384,"scale":{"domain":[0,-0.8],"nice":false,"zero":false}},"y":{"datum":0.587,"scale":{"domain":[0.43,1.525],"nice":false,"zero":false}}}},
   {"data":{"values":[{}]},"mark":{"type":"text","text":"VRS REGIME","font":"Lato","fontWeight":"bold","fontSize":11.5,"color":"#ff0000","align":"center","baseline":"middle"},"encoding":{"x":{"datum":-0.662,"scale":{"domain":[0,-0.8],"nice":false,"zero":false}},"y":{"datum":0.51,"scale":{"domain":[0.43,1.525],"nice":false,"zero":false}}}}
  ]}
 ]
},
{
 "title":"(b) Two rotors flying in tandem",
 "width":520,"height":226,
 "resolve":{"scale":{"x":"independent","y":"independent"}},
 "layer":[
  {"data":{"values":[{}]},"layer":[
   {"mark":{"type":"rect","fill":{"gradient":"linear","x1":0,"y1":0,"x2":1,"y2":0,"stops":[{"offset":0,"color":"#ececec"},{"offset":1,"color":"#fdfdfd"}]}},"encoding":{"x":{"datum":-0.177,"scale":{"domain":[0,-0.8],"nice":false,"zero":false},"axis":null},"x2":{"datum":-0.5},"y":{"datum":0.43,"scale":{"domain":[0.43,1.525],"nice":false,"zero":false},"axis":null},"y2":{"datum":1.4}}},
   {"mark":{"type":"rect","fill":"#fde8e8"},"encoding":{"x":{"datum":-0.5,"scale":{"domain":[0,-0.8],"nice":false,"zero":false},"axis":null},"x2":{"datum":-0.8},"y":{"datum":0.43,"scale":{"domain":[0.43,1.525],"nice":false,"zero":false},"axis":null},"y2":{"datum":1.4}}},
   {"mark":{"type":"rect","fill":"white"},"encoding":{"x":{"datum":-0.003,"scale":{"domain":[0,-0.8],"nice":false,"zero":false},"axis":null},"x2":{"datum":-0.244},"y":{"datum":0.43,"scale":{"domain":[0.43,1.525],"nice":false,"zero":false},"axis":null},"y2":{"datum":0.92}}}
  ]},
  {"layer":[
    {"data":{"values":[{}]},"mark":{"type":"rect","fill":"white","stroke":"#8aa2c0","strokeWidth":1.2},"encoding":{"x":{"datum":0,"scale":{"domain":[-1.364,57.727],"nice":false,"zero":false},"axis":null},"x2":{"datum":10},"y":{"datum":0,"scale":{"domain":[-134.92,57.09],"nice":false,"zero":false},"axis":null},"y2":{"datum":100}}},
    {"data":{"name":"b1"},"encoding":{"x":{"field":"r","type":"quantitative","scale":{"domain":[-1.364,57.727],"nice":false,"zero":false},"axis":null},"y":{"field":"a","type":"quantitative","scale":{"domain":[-134.92,57.09],"nice":false,"zero":false},"axis":null}},"layer":[
      {"mark":{"type":"line","color":"#ff0000","strokeWidth":1}},
      {"mark":{"type":"line","color":"#0000ff","strokeWidth":1},"encoding":{"y":{"field":"b","type":"quantitative","axis":null}}}]},
    {"data":{"values":[{"r":0},{"r":10}]},"mark":{"type":"text","fontSize":6.5,"fontWeight":"bold","baseline":"middle","dy":-7},"encoding":{"x":{"field":"r","type":"quantitative","scale":{"domain":[-1.364,57.727],"nice":false,"zero":false},"axis":null},"y":{"datum":100,"scale":{"domain":[-134.92,57.09],"nice":false,"zero":false},"axis":null},"text":{"field":"r","type":"nominal"}}},
    {"data":{"values":[{}]},"mark":{"type":"text","text":"Revolutions","fontSize":7,"fontWeight":"bold","baseline":"middle","dy":-16.5},"encoding":{"x":{"datum":5,"scale":{"domain":[-1.364,57.727],"nice":false,"zero":false},"axis":null},"y":{"datum":100,"scale":{"domain":[-134.92,57.09],"nice":false,"zero":false},"axis":null}}}
  ]},
  {"layer":[
    {"data":{"values":[{}]},"mark":{"type":"rect","fill":"white","stroke":"#8aa2c0","strokeWidth":1.2},"encoding":{"x":{"datum":0,"scale":{"domain":[-13.182,45.909],"nice":false,"zero":false},"axis":null},"x2":{"datum":10},"y":{"datum":0,"scale":{"domain":[-134.92,57.09],"nice":false,"zero":false},"axis":null},"y2":{"datum":100}}},
    {"data":{"name":"b2"},"encoding":{"x":{"field":"r","type":"quantitative","scale":{"domain":[-13.182,45.909],"nice":false,"zero":false},"axis":null},"y":{"field":"a","type":"quantitative","scale":{"domain":[-134.92,57.09],"nice":false,"zero":false},"axis":null}},"layer":[
      {"mark":{"type":"line","color":"#ff0000","strokeWidth":1}},
      {"mark":{"type":"line","color":"#0000ff","strokeWidth":1},"encoding":{"y":{"field":"b","type":"quantitative","axis":null}}}]},
    {"data":{"values":[{"r":0},{"r":10}]},"mark":{"type":"text","fontSize":6.5,"fontWeight":"bold","baseline":"middle","dy":-7},"encoding":{"x":{"field":"r","type":"quantitative","scale":{"domain":[-13.182,45.909],"nice":false,"zero":false},"axis":null},"y":{"datum":100,"scale":{"domain":[-134.92,57.09],"nice":false,"zero":false},"axis":null},"text":{"field":"r","type":"nominal"}}},
    {"data":{"values":[{}]},"mark":{"type":"text","text":"Revolutions","fontSize":7,"fontWeight":"bold","baseline":"middle","dy":-16.5},"encoding":{"x":{"datum":5,"scale":{"domain":[-13.182,45.909],"nice":false,"zero":false},"axis":null},"y":{"datum":100,"scale":{"domain":[-134.92,57.09],"nice":false,"zero":false},"axis":null}}}
  ]},
  {"layer":[
    {"data":{"values":[{}]},"mark":{"type":"rect","fill":"white","stroke":"#8aa2c0","strokeWidth":1.2},"encoding":{"x":{"datum":0,"scale":{"domain":[-25,34.091],"nice":false,"zero":false},"axis":null},"x2":{"datum":10},"y":{"datum":0,"scale":{"domain":[-134.92,57.09],"nice":false,"zero":false},"axis":null},"y2":{"datum":100}}},
    {"data":{"name":"b3"},"encoding":{"x":{"field":"r","type":"quantitative","scale":{"domain":[-25,34.091],"nice":false,"zero":false},"axis":null},"y":{"field":"a","type":"quantitative","scale":{"domain":[-134.92,57.09],"nice":false,"zero":false},"axis":null}},"layer":[
      {"mark":{"type":"line","color":"#ff0000","strokeWidth":1}},
      {"mark":{"type":"line","color":"#0000ff","strokeWidth":1},"encoding":{"y":{"field":"b","type":"quantitative","axis":null}}}]},
    {"data":{"values":[{"r":0},{"r":10}]},"mark":{"type":"text","fontSize":6.5,"fontWeight":"bold","baseline":"middle","dy":-7},"encoding":{"x":{"field":"r","type":"quantitative","scale":{"domain":[-25,34.091],"nice":false,"zero":false},"axis":null},"y":{"datum":100,"scale":{"domain":[-134.92,57.09],"nice":false,"zero":false},"axis":null},"text":{"field":"r","type":"nominal"}}},
    {"data":{"values":[{}]},"mark":{"type":"text","text":"Revolutions","fontSize":7,"fontWeight":"bold","baseline":"middle","dy":-16.5},"encoding":{"x":{"datum":5,"scale":{"domain":[-25,34.091],"nice":false,"zero":false},"axis":null},"y":{"datum":100,"scale":{"domain":[-134.92,57.09],"nice":false,"zero":false},"axis":null}}}
  ]},
  {"layer":[
    {"data":{"values":[{}]},"mark":{"type":"rect","fill":"white"},"encoding":{"x":{"datum":0,"scale":{"domain":[-36.818,22.273],"nice":false,"zero":false},"axis":null},"x2":{"datum":10},"y":{"datum":-13.5,"scale":{"domain":[-77.58,67.57],"nice":false,"zero":false},"axis":null},"y2":{"datum":100}}},
    {"data":{"values":[{}]},"mark":{"type":"rect","fill":"white","stroke":"#8aa2c0","strokeWidth":1.2},"encoding":{"x":{"datum":0,"scale":{"domain":[-36.818,22.273],"nice":false,"zero":false},"axis":null},"x2":{"datum":10},"y":{"datum":0,"scale":{"domain":[-77.58,67.57],"nice":false,"zero":false},"axis":null},"y2":{"datum":100}}},
    {"data":{"name":"b4"},"encoding":{"x":{"field":"r","type":"quantitative","scale":{"domain":[-36.818,22.273],"nice":false,"zero":false},"axis":null},"y":{"field":"a","type":"quantitative","scale":{"domain":[-77.58,67.57],"nice":false,"zero":false},"axis":null}},"layer":[
      {"mark":{"type":"line","color":"#ff0000","strokeWidth":1}},
      {"mark":{"type":"line","color":"#0000ff","strokeWidth":1},"encoding":{"y":{"field":"b","type":"quantitative","axis":null}}}]},
    {"data":{"values":[{"r":0},{"r":10}]},"mark":{"type":"text","fontSize":6.5,"fontWeight":"bold","baseline":"middle","dy":-7},"encoding":{"x":{"field":"r","type":"quantitative","scale":{"domain":[-36.818,22.273],"nice":false,"zero":false},"axis":null},"y":{"datum":100,"scale":{"domain":[-77.58,67.57],"nice":false,"zero":false},"axis":null},"text":{"field":"r","type":"nominal"}}},
    {"data":{"values":[{}]},"mark":{"type":"text","text":"Revolutions","fontSize":7,"fontWeight":"bold","baseline":"middle","dy":-16.5},"encoding":{"x":{"datum":5,"scale":{"domain":[-36.818,22.273],"nice":false,"zero":false},"axis":null},"y":{"datum":100,"scale":{"domain":[-77.58,67.57],"nice":false,"zero":false},"axis":null}}}
  ]},
  {"layer":[
    {"data":{"values":[{}]},"mark":{"type":"rect","fill":"white","stroke":"#8aa2c0","strokeWidth":1.2},"encoding":{"x":{"datum":0,"scale":{"domain":[-48.682,10.409],"nice":false,"zero":false},"axis":null},"x2":{"datum":10},"y":{"datum":0,"scale":{"domain":[-77.58,67.57],"nice":false,"zero":false},"axis":null},"y2":{"datum":100}}},
    {"data":{"name":"b5"},"encoding":{"x":{"field":"r","type":"quantitative","scale":{"domain":[-48.682,10.409],"nice":false,"zero":false},"axis":null},"y":{"field":"a","type":"quantitative","scale":{"domain":[-77.58,67.57],"nice":false,"zero":false},"axis":null}},"layer":[
      {"mark":{"type":"line","color":"#ff0000","strokeWidth":1}},
      {"mark":{"type":"line","color":"#0000ff","strokeWidth":1},"encoding":{"y":{"field":"b","type":"quantitative","axis":null}}}]},
    {"data":{"values":[{"r":0},{"r":10}]},"mark":{"type":"text","fontSize":6.5,"fontWeight":"bold","baseline":"middle","dy":-7},"encoding":{"x":{"field":"r","type":"quantitative","scale":{"domain":[-48.682,10.409],"nice":false,"zero":false},"axis":null},"y":{"datum":100,"scale":{"domain":[-77.58,67.57],"nice":false,"zero":false},"axis":null},"text":{"field":"r","type":"nominal"}}},
    {"data":{"values":[{}]},"mark":{"type":"text","text":"Revolutions","fontSize":7,"fontWeight":"bold","baseline":"middle","dy":-16.5},"encoding":{"x":{"datum":5,"scale":{"domain":[-48.682,10.409],"nice":false,"zero":false},"axis":null},"y":{"datum":100,"scale":{"domain":[-77.58,67.57],"nice":false,"zero":false},"axis":null}}}
  ]},
  {"layer":[
   {"encoding":{
     "x":{"field":"v","type":"quantitative","scale":{"domain":[0,-0.8],"nice":false,"zero":false},"axis":{"orient":"bottom","values":[0,-0.1,-0.2,-0.3,-0.4,-0.5,-0.6,-0.7,-0.8],"labelExpr":"replace(format(datum.value,'.1f'),'−','-')","title":"Vertical speed / vₕ","labelPadding":6,"titlePadding":6}},
     "y":{"field":"p","type":"quantitative","scale":{"domain":[0.43,1.525],"nice":false,"zero":false},"axis":{"orient":"left","values":[0.5,0.75,1,1.25,1.5],"format":".2f","title":"Power / Pref","labelPadding":9,"titlePadding":8}}},
    "layer":[
     {"data":{"name":"trend"},"mark":{"type":"line","color":"#bdbdbd","strokeWidth":2}},
     {"data":{"name":"iso"},"transform":[{"filter":"datum.v <= -0.25"}],"mark":{"type":"circle","color":"#c8c8c8","size":64,"opacity":1}},
     {"data":{"name":"tandem"},"layer":[
      {"mark":{"type":"rule","strokeWidth":2.5},"encoding":{"y":{"field":"lo","type":"quantitative"},"y2":{"field":"hi"},"color":{"field":"rotor","type":"nominal","scale":{"domain":["Front rotor","Rear rotor"],"range":["#ff0000","#0000ff"]}}}},
      {"mark":{"type":"tick","orient":"horizontal","size":14,"thickness":2.5,"opacity":1},"encoding":{"y":{"field":"lo","type":"quantitative"},"color":{"field":"rotor","type":"nominal"}}},
      {"mark":{"type":"tick","orient":"horizontal","size":14,"thickness":2.5,"opacity":1},"encoding":{"y":{"field":"hi","type":"quantitative"},"color":{"field":"rotor","type":"nominal"}}},
      {"mark":{"type":"tick","orient":"horizontal","size":14,"thickness":2.5,"opacity":1},"encoding":{"color":{"field":"rotor","type":"nominal"}}},
      {"mark":{"type":"circle","size":64,"opacity":1},"encoding":{"color":{"field":"rotor","type":"nominal","legend":{"orient":"none","legendX":25,"legendY":170,"title":null,"symbolType":"circle","symbolSize":70,"symbolOpacity":1,"symbolStrokeWidth":0,"labelFont":"Liberation Sans","labelFontSize":12,"labelFontWeight":"bold","labelColor":"#000","labelAlign":"right","labelOffset":71,"rowPadding":11,"padding":0}}}}
     ]}
    ]},
   {"data":{"values":[{}]},"mark":{"type":"text","text":["WAKE INTERFERENCE","REGIME"],"font":"Lato","fontWeight":"bold","fontSize":11.5,"lineHeight":16,"color":"#b5b5b5","align":"center","baseline":"middle"},"encoding":{"x":{"datum":-0.368,"scale":{"domain":[0,-0.8],"nice":false,"zero":false}},"y":{"datum":0.592,"scale":{"domain":[0.43,1.525],"nice":false,"zero":false}}}},
   {"data":{"values":[{}]},"mark":{"type":"text","text":["VRS","REGIME"],"font":"Lato","fontWeight":"bold","fontSize":11.5,"lineHeight":15,"color":"#ff0000","align":"center","baseline":"middle"},"encoding":{"x":{"datum":-0.745,"scale":{"domain":[0,-0.8],"nice":false,"zero":false}},"y":{"datum":0.609,"scale":{"domain":[0.43,1.525],"nice":false,"zero":false}}}}
  ]}
 ]
},
{
 "title":"(c) Two rotors flying side-by-side",
 "width":520,"height":226,
 "resolve":{"scale":{"x":"independent","y":"independent"}},
 "layer":[
  {"data":{"values":[{}]},"layer":[
   {"mark":{"type":"rect","fill":{"gradient":"linear","x1":0,"y1":0,"x2":1,"y2":0,"stops":[{"offset":0,"color":"#ececec"},{"offset":1,"color":"#fdfdfd"}]}},"encoding":{"x":{"datum":-0.181,"scale":{"domain":[0,-0.8],"nice":false,"zero":false},"axis":null},"x2":{"datum":-0.5},"y":{"datum":0.43,"scale":{"domain":[0.43,1.525],"nice":false,"zero":false},"axis":null},"y2":{"datum":1.224}}},
   {"mark":{"type":"rect","fill":"#fde8e8"},"encoding":{"x":{"datum":-0.5,"scale":{"domain":[0,-0.8],"nice":false,"zero":false},"axis":null},"x2":{"datum":-0.8},"y":{"datum":0.43,"scale":{"domain":[0.43,1.525],"nice":false,"zero":false},"axis":null},"y2":{"datum":1.224}}}
  ]},
  {"layer":[
    {"data":{"values":[{}]},"mark":{"type":"rect","fill":"white","stroke":"#8aa2c0","strokeWidth":1.2},"encoding":{"x":{"datum":0,"scale":{"domain":[-1.364,57.727],"nice":false,"zero":false},"axis":null},"x2":{"datum":10},"y":{"datum":0,"scale":{"domain":[-133.73,57.31],"nice":false,"zero":false},"axis":null},"y2":{"datum":100}}},
    {"data":{"name":"c1"},"encoding":{"x":{"field":"r","type":"quantitative","scale":{"domain":[-1.364,57.727],"nice":false,"zero":false},"axis":null},"y":{"field":"a","type":"quantitative","scale":{"domain":[-133.73,57.31],"nice":false,"zero":false},"axis":null}},"layer":[
      {"mark":{"type":"line","color":"#ff0000","strokeWidth":1}},
      {"mark":{"type":"line","color":"#1f8c1f","strokeWidth":1},"encoding":{"y":{"field":"b","type":"quantitative","axis":null}}}]},
    {"data":{"values":[{"r":0},{"r":10}]},"mark":{"type":"text","fontSize":6.5,"fontWeight":"bold","baseline":"middle","dy":-7},"encoding":{"x":{"field":"r","type":"quantitative","scale":{"domain":[-1.364,57.727],"nice":false,"zero":false},"axis":null},"y":{"datum":100,"scale":{"domain":[-133.73,57.31],"nice":false,"zero":false},"axis":null},"text":{"field":"r","type":"nominal"}}},
    {"data":{"values":[{}]},"mark":{"type":"text","text":"Revolutions","fontSize":7,"fontWeight":"bold","baseline":"middle","dy":-16.5},"encoding":{"x":{"datum":5,"scale":{"domain":[-1.364,57.727],"nice":false,"zero":false},"axis":null},"y":{"datum":100,"scale":{"domain":[-133.73,57.31],"nice":false,"zero":false},"axis":null}}}
  ]},
  {"layer":[
    {"data":{"values":[{}]},"mark":{"type":"rect","fill":"white","stroke":"#8aa2c0","strokeWidth":1.2},"encoding":{"x":{"datum":0,"scale":{"domain":[-13.182,45.909],"nice":false,"zero":false},"axis":null},"x2":{"datum":10},"y":{"datum":0,"scale":{"domain":[-133.73,57.31],"nice":false,"zero":false},"axis":null},"y2":{"datum":100}}},
    {"data":{"name":"c2"},"encoding":{"x":{"field":"r","type":"quantitative","scale":{"domain":[-13.182,45.909],"nice":false,"zero":false},"axis":null},"y":{"field":"a","type":"quantitative","scale":{"domain":[-133.73,57.31],"nice":false,"zero":false},"axis":null}},"layer":[
      {"mark":{"type":"line","color":"#ff0000","strokeWidth":1}},
      {"mark":{"type":"line","color":"#1f8c1f","strokeWidth":1},"encoding":{"y":{"field":"b","type":"quantitative","axis":null}}}]},
    {"data":{"values":[{"r":0},{"r":10}]},"mark":{"type":"text","fontSize":6.5,"fontWeight":"bold","baseline":"middle","dy":-7},"encoding":{"x":{"field":"r","type":"quantitative","scale":{"domain":[-13.182,45.909],"nice":false,"zero":false},"axis":null},"y":{"datum":100,"scale":{"domain":[-133.73,57.31],"nice":false,"zero":false},"axis":null},"text":{"field":"r","type":"nominal"}}},
    {"data":{"values":[{}]},"mark":{"type":"text","text":"Revolutions","fontSize":7,"fontWeight":"bold","baseline":"middle","dy":-16.5},"encoding":{"x":{"datum":5,"scale":{"domain":[-13.182,45.909],"nice":false,"zero":false},"axis":null},"y":{"datum":100,"scale":{"domain":[-133.73,57.31],"nice":false,"zero":false},"axis":null}}}
  ]},
  {"layer":[
    {"data":{"values":[{}]},"mark":{"type":"rect","fill":"white","stroke":"#8aa2c0","strokeWidth":1.2},"encoding":{"x":{"datum":0,"scale":{"domain":[-25,34.091],"nice":false,"zero":false},"axis":null},"x2":{"datum":10},"y":{"datum":0,"scale":{"domain":[-77.24,67.63],"nice":false,"zero":false},"axis":null},"y2":{"datum":100}}},
    {"data":{"name":"c3"},"encoding":{"x":{"field":"r","type":"quantitative","scale":{"domain":[-25,34.091],"nice":false,"zero":false},"axis":null},"y":{"field":"a","type":"quantitative","scale":{"domain":[-77.24,67.63],"nice":false,"zero":false},"axis":null}},"layer":[
      {"mark":{"type":"line","color":"#ff0000","strokeWidth":1}},
      {"mark":{"type":"line","color":"#1f8c1f","strokeWidth":1},"encoding":{"y":{"field":"b","type":"quantitative","axis":null}}}]},
    {"data":{"values":[{"r":0},{"r":10}]},"mark":{"type":"text","fontSize":6.5,"fontWeight":"bold","baseline":"middle","dy":-7},"encoding":{"x":{"field":"r","type":"quantitative","scale":{"domain":[-25,34.091],"nice":false,"zero":false},"axis":null},"y":{"datum":100,"scale":{"domain":[-77.24,67.63],"nice":false,"zero":false},"axis":null},"text":{"field":"r","type":"nominal"}}},
    {"data":{"values":[{}]},"mark":{"type":"text","text":"Revolutions","fontSize":7,"fontWeight":"bold","baseline":"middle","dy":-16.5},"encoding":{"x":{"datum":5,"scale":{"domain":[-25,34.091],"nice":false,"zero":false},"axis":null},"y":{"datum":100,"scale":{"domain":[-77.24,67.63],"nice":false,"zero":false},"axis":null}}}
  ]},
  {"layer":[
    {"data":{"values":[{}]},"mark":{"type":"rect","fill":"white","stroke":"#8aa2c0","strokeWidth":1.2},"encoding":{"x":{"datum":0,"scale":{"domain":[-36.818,22.273],"nice":false,"zero":false},"axis":null},"x2":{"datum":10},"y":{"datum":0,"scale":{"domain":[-77.24,67.63],"nice":false,"zero":false},"axis":null},"y2":{"datum":100}}},
    {"data":{"name":"c4"},"encoding":{"x":{"field":"r","type":"quantitative","scale":{"domain":[-36.818,22.273],"nice":false,"zero":false},"axis":null},"y":{"field":"a","type":"quantitative","scale":{"domain":[-77.24,67.63],"nice":false,"zero":false},"axis":null}},"layer":[
      {"mark":{"type":"line","color":"#ff0000","strokeWidth":1}},
      {"mark":{"type":"line","color":"#1f8c1f","strokeWidth":1},"encoding":{"y":{"field":"b","type":"quantitative","axis":null}}}]},
    {"data":{"values":[{"r":0},{"r":10}]},"mark":{"type":"text","fontSize":6.5,"fontWeight":"bold","baseline":"middle","dy":-7},"encoding":{"x":{"field":"r","type":"quantitative","scale":{"domain":[-36.818,22.273],"nice":false,"zero":false},"axis":null},"y":{"datum":100,"scale":{"domain":[-77.24,67.63],"nice":false,"zero":false},"axis":null},"text":{"field":"r","type":"nominal"}}},
    {"data":{"values":[{}]},"mark":{"type":"text","text":"Revolutions","fontSize":7,"fontWeight":"bold","baseline":"middle","dy":-16.5},"encoding":{"x":{"datum":5,"scale":{"domain":[-36.818,22.273],"nice":false,"zero":false},"axis":null},"y":{"datum":100,"scale":{"domain":[-77.24,67.63],"nice":false,"zero":false},"axis":null}}}
  ]},
  {"layer":[
    {"data":{"values":[{}]},"mark":{"type":"rect","fill":"white","stroke":"#8aa2c0","strokeWidth":1.2},"encoding":{"x":{"datum":0,"scale":{"domain":[-48.682,10.409],"nice":false,"zero":false},"axis":null},"x2":{"datum":10},"y":{"datum":0,"scale":{"domain":[-77.24,67.63],"nice":false,"zero":false},"axis":null},"y2":{"datum":100}}},
    {"data":{"name":"c5"},"encoding":{"x":{"field":"r","type":"quantitative","scale":{"domain":[-48.682,10.409],"nice":false,"zero":false},"axis":null},"y":{"field":"a","type":"quantitative","scale":{"domain":[-77.24,67.63],"nice":false,"zero":false},"axis":null}},"layer":[
      {"mark":{"type":"line","color":"#ff0000","strokeWidth":1}},
      {"mark":{"type":"line","color":"#1f8c1f","strokeWidth":1},"encoding":{"y":{"field":"b","type":"quantitative","axis":null}}}]},
    {"data":{"values":[{"r":0},{"r":10}]},"mark":{"type":"text","fontSize":6.5,"fontWeight":"bold","baseline":"middle","dy":-7},"encoding":{"x":{"field":"r","type":"quantitative","scale":{"domain":[-48.682,10.409],"nice":false,"zero":false},"axis":null},"y":{"datum":100,"scale":{"domain":[-77.24,67.63],"nice":false,"zero":false},"axis":null},"text":{"field":"r","type":"nominal"}}},
    {"data":{"values":[{}]},"mark":{"type":"text","text":"Revolutions","fontSize":7,"fontWeight":"bold","baseline":"middle","dy":-16.5},"encoding":{"x":{"datum":5,"scale":{"domain":[-48.682,10.409],"nice":false,"zero":false},"axis":null},"y":{"datum":100,"scale":{"domain":[-77.24,67.63],"nice":false,"zero":false},"axis":null}}}
  ]},
  {"layer":[
   {"encoding":{
     "x":{"field":"v","type":"quantitative","scale":{"domain":[0,-0.8],"nice":false,"zero":false},"axis":{"orient":"bottom","values":[0,-0.1,-0.2,-0.3,-0.4,-0.5,-0.6,-0.7,-0.8],"labelExpr":"replace(format(datum.value,'.1f'),'−','-')","title":"Vertical speed / vₕ","labelPadding":6,"titlePadding":6}},
     "y":{"field":"p","type":"quantitative","scale":{"domain":[0.43,1.525],"nice":false,"zero":false},"axis":{"orient":"left","values":[0.5,0.75,1,1.25,1.5],"format":".2f","title":"Power / Pref","labelPadding":9,"titlePadding":8}}},
    "layer":[
     {"data":{"name":"trend"},"mark":{"type":"line","color":"#bdbdbd","strokeWidth":2}},
     {"data":{"name":"iso"},"transform":[{"filter":"datum.v <= -0.25"}],"mark":{"type":"circle","color":"#c8c8c8","size":64,"opacity":1}},
     {"data":{"name":"side"},"layer":[
      {"mark":{"type":"rule","strokeWidth":2.5},"encoding":{"y":{"field":"lo","type":"quantitative"},"y2":{"field":"hi"},"color":{"field":"rotor","type":"nominal","scale":{"domain":["Port rotor","Starboard rotor"],"range":["#ff0000","#0fa64a"]}}}},
      {"mark":{"type":"tick","orient":"horizontal","size":14,"thickness":2.5,"opacity":1},"encoding":{"y":{"field":"lo","type":"quantitative"},"color":{"field":"rotor","type":"nominal"}}},
      {"mark":{"type":"tick","orient":"horizontal","size":14,"thickness":2.5,"opacity":1},"encoding":{"y":{"field":"hi","type":"quantitative"},"color":{"field":"rotor","type":"nominal"}}},
      {"mark":{"type":"tick","orient":"horizontal","size":14,"thickness":2.5,"opacity":1},"encoding":{"color":{"field":"rotor","type":"nominal"}}},
      {"mark":{"type":"circle","size":64,"opacity":1},"encoding":{"color":{"field":"rotor","type":"nominal","legend":{"orient":"none","legendX":25,"legendY":170,"title":null,"symbolType":"circle","symbolSize":70,"symbolOpacity":1,"symbolStrokeWidth":0,"labelFont":"Liberation Sans","labelFontSize":12,"labelFontWeight":"bold","labelColor":"#000","labelAlign":"right","labelOffset":100,"rowPadding":11,"padding":0}}}}
     ]}
    ]},
   {"data":{"values":[{}]},"mark":{"type":"text","text":["WAKE INTERFERENCE","REGIME"],"font":"Lato","fontWeight":"bold","fontSize":11.5,"lineHeight":15,"color":"#b5b5b5","align":"center","baseline":"middle"},"encoding":{"x":{"datum":-0.368,"scale":{"domain":[0,-0.8],"nice":false,"zero":false}},"y":{"datum":0.597,"scale":{"domain":[0.43,1.525],"nice":false,"zero":false}}}},
   {"data":{"values":[{}]},"mark":{"type":"text","text":["VRS","REGIME"],"font":"Lato","fontWeight":"bold","fontSize":11.5,"lineHeight":16,"color":"#ff0000","align":"center","baseline":"middle"},"encoding":{"x":{"datum":-0.547,"scale":{"domain":[0,-0.8],"nice":false,"zero":false}},"y":{"datum":0.613,"scale":{"domain":[0.43,1.525],"nice":false,"zero":false}}}}
  ]}
 ]
}
]
}
